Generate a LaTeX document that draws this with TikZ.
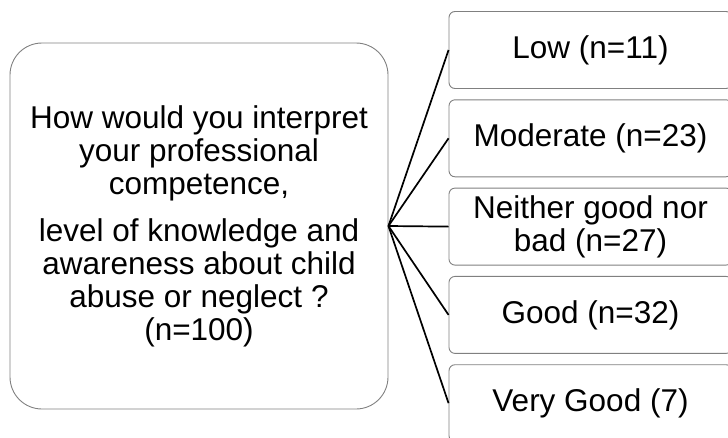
\documentclass[tikz,border=0pt]{standalone}
\usepackage{fontspec}
\setmainfont{Liberation Sans}
\usetikzlibrary{positioning}
\definecolor{boxgray}{RGB}{128,128,128}

\begin{document}
\begin{tikzpicture}[x=1pt,y=-1pt,
    question/.style={draw=boxgray,line width=.9pt,rounded corners=32pt,
      minimum width=378pt,minimum height=366pt,align=center,
      font=\fontsize{31.5}{33}\selectfont},
    answer/.style={draw=boxgray,line width=.9pt,rounded corners=6pt,
      minimum width=283pt,minimum height=77pt,align=center,
      font=\fontsize{31.5}{33}\selectfont},
    fan/.style={line width=1.7pt}]
  \clip (0,0) rectangle (728,437);
  \node[question] (main) at (199,226)
    {How would you interpret\\your professional\\competence,\\[14pt]
     level of knowledge and\\awareness about child\\abuse or neglect ?\\(n=100)};
  \node[answer] (low) at (590.5,50) {Low (n=11)};
  \node[answer] (moderate) at (590.5,138.3) {Moderate (n=23)};
  \node[answer] (neither) at (590.5,226.6) {Neither good nor\\bad (n=27)};
  \node[answer] (good) at (590.5,314.9) {Good (n=32)};
  \node[answer] (verygood) at (590.5,403.2) {Very Good (7)};
  \coordinate (hub) at (main.east);
  \foreach \n in {low,moderate,neither,good,verygood}
    \draw[fan] (hub) -- (\n.west);
\end{tikzpicture}
\end{document}
